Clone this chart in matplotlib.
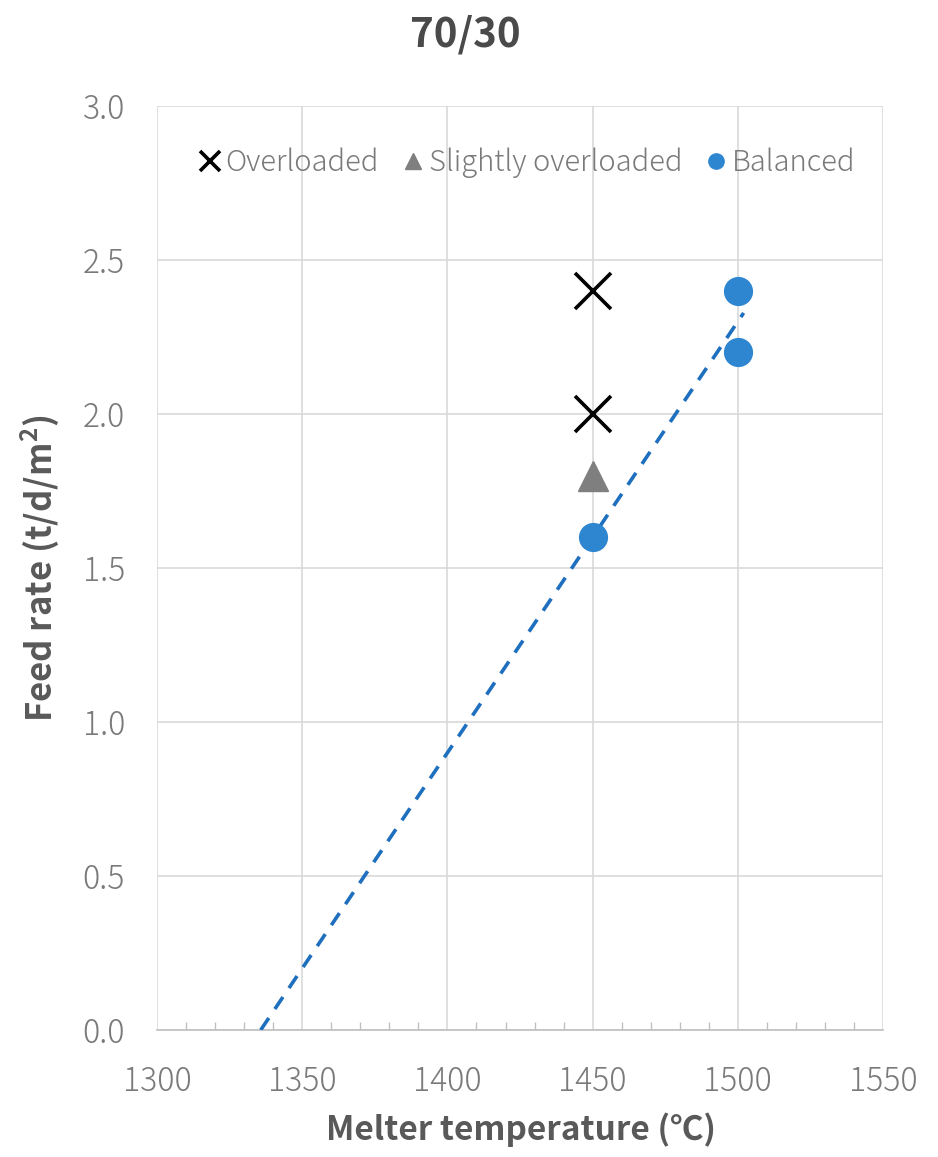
import numpy as np
import matplotlib.pyplot as plt

plt.rcParams['font.family'] = ['Noto Sans CJK JP', 'DejaVu Sans']

# data
over_x = [1450, 1450]
over_y = [2.4, 2.0]
slight_x = [1450]
slight_y = [1.8]
bal_x = [1450, 1500, 1500]
bal_y = [1.6, 2.2, 2.4]

grey = '#595959'
light = '#7A7A7A'
blue = '#2E86D1'

fig = plt.figure(figsize=(9.38, 11.57), dpi=100)
ax = fig.add_axes([0.1674, 0.1098, 0.774, 0.7986])

ax.plot(over_x, over_y, 'x', color='black', markersize=26, markeredgewidth=2.6,
        label='Overloaded', zorder=4)
ax.plot(slight_x, slight_y, '^', color='#7F7F7F', markersize=22,
        label='Slightly overloaded', zorder=4)
ax.plot(bal_x, bal_y, 'o', color=blue, markersize=20,
        label='Balanced', zorder=4)

# linear trendline of balanced points, extended back to y=0
k, b = np.polyfit(bal_x, bal_y, 1)
tx = np.array([-b / k, 1502])
ax.plot(tx, k * tx + b, '--', color='#1F6FBF', linewidth=2.6, dashes=(4, 3), zorder=3)

ax.set_xlim(1300, 1550)
ax.set_ylim(0, 3.0)
ax.set_xticks(np.arange(1300, 1551, 50))
ax.set_yticks(np.arange(0, 3.01, 0.5))
ax.set_yticklabels(['%.1f' % v for v in np.arange(0, 3.01, 0.5)])
ax.set_xticks(np.arange(1310, 1550, 10), minor=True)
ax.grid(True, which='major', color='#D9D9D9', linewidth=1.2)
ax.set_axisbelow(True)

for s in ['top', 'right', 'left']:
    ax.spines[s].set_visible(False)
ax.spines['bottom'].set_color('#BFBFBF')
ax.spines['bottom'].set_linewidth(1.2)

ax.tick_params(axis='both', which='major', length=0, labelsize=23, labelcolor=light)
ax.tick_params(axis='x', which='major', pad=25)
ax.tick_params(axis='y', which='major', pad=23)
ax.tick_params(axis='x', which='minor', direction='in', length=6, color='#BFBFBF', width=1)
for t in ax.get_xticklabels() + ax.get_yticklabels():
    t.set_fontweight('light')

ax.set_xlabel('Melter temperature (℃)', fontsize=24, fontweight='bold', color=grey)
ax.xaxis.set_label_coords(0.501, -0.108)
ax.xaxis.label.set_va('center')
ax.set_ylabel('Feed rate (t/d/m$^\\mathregular{2}$)', fontsize=25, fontweight='bold', color=grey)
ax.yaxis.set_label_coords(-0.161, 0.5)
ax.yaxis.label.set_va('center')
fig.text(0.496, 0.970, '70/30', ha='center', va='center',
         fontsize=29, fontweight='bold', color='#4A4A4A')

leg = ax.legend(loc='upper center', bbox_to_anchor=(0.51, 0.983), ncol=3, frameon=False,
                markerscale=0.55, fontsize=21, handlelength=0.7, handletextpad=0.2,
                columnspacing=0.8)
for t in leg.get_texts():
    t.set_color(light)
    t.set_fontweight('light')

fig.savefig('out.png', dpi=100)
